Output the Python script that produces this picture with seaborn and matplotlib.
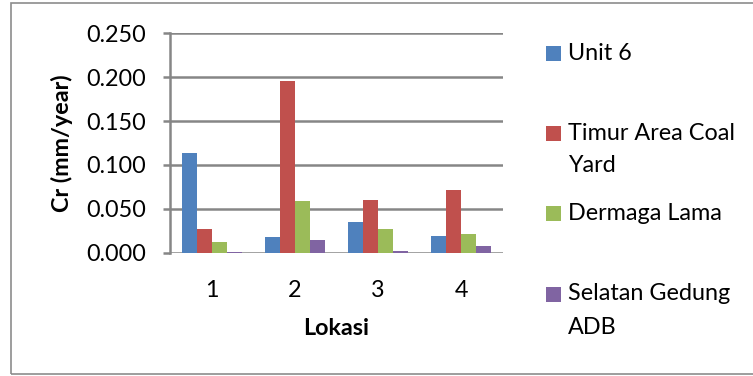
import matplotlib
matplotlib.use("Agg")
import matplotlib.pyplot as plt
import matplotlib.patches as mpatches
import seaborn as sns
import pandas as pd

categories = ["1", "2", "3", "4"]
series_names = ["Unit 6", "Timur Area Coal Yard", "Dermaga Lama", "Selatan Gedung ADB"]
unit6 = [0.114, 0.018, 0.035, 0.019]
timur = [0.027, 0.196, 0.060, 0.071]
dermaga = [0.0125, 0.059, 0.027, 0.021]
selatan = [0.001, 0.015, 0.002, 0.0076]
yticks = [0.0, 0.05, 0.10, 0.15, 0.20, 0.25]
colors = ["#4F81BD", "#C0504D", "#9BBB59", "#8064A2"]
legend_lines = [["Unit 6"], ["Timur Area Coal", "Yard"], ["Dermaga Lama"], ["Selatan Gedung", "ADB"]]

rows = []
for name, vals in zip(series_names, [unit6, timur, dermaga, selatan]):
    for c, v in zip(categories, vals):
        rows.append({"Lokasi": c, "Series": name, "Cr": v})
df = pd.DataFrame(rows)

sns.set_theme(style="white")
plt.rcParams["font.family"] = ["Lato", "DejaVu Sans"]

FS = 16.8
W, H = 753, 376
fig = plt.figure(figsize=(W / 100, H / 100), dpi=100)
ax = fig.add_axes([170 / W, 1 - 252.7 / H, 333 / W, 219.4 / H])

sns.barplot(data=df, x="Lokasi", y="Cr", hue="Series", order=categories,
            hue_order=series_names, palette=colors, width=0.72, gap=0,
            saturation=1, linewidth=0, ax=ax, legend=False)

ax.set_ylim(0, 0.25)
ax.set_xlim(-0.5, 3.5)
ax.set_yticks(yticks)
ax.set_yticklabels([f"{t:.3f}" for t in yticks])
gridc = "#868686"
for t in yticks:
    ax.axhline(t, color=gridc, lw=1.8, zorder=0.5)
for s in ["top", "right", "bottom"]:
    ax.spines[s].set_visible(False)
ax.spines["left"].set_color(gridc)
ax.spines["left"].set_linewidth(1.8)
ax.tick_params(axis="y", left=True, length=5, width=1.8, color=gridc, pad=12,
               labelsize=FS, labelcolor="black")
ax.tick_params(axis="x", bottom=False, pad=14, labelsize=FS, labelcolor="black")

ax.set_ylabel("Cr (mm/year)", fontsize=FS, fontweight="bold", color="black")
ax.yaxis.set_label_coords(-0.291, 0.5)
ax.set_xlabel("Lokasi", fontsize=FS, fontweight="bold", color="black")
ax.xaxis.set_label_coords(0.5, -0.298)

# outer chart border
fig.patches.append(mpatches.Rectangle((11 / W, 1 - 374 / H), 1.0, 371 / H,
                                      transform=fig.transFigure, fill=False,
                                      edgecolor="#8c8c8c", lw=1.2))

# legend (Excel style, marker aligned with first line)
ys = [53, 133, 214, 294]
for col, lines, y in zip(colors, legend_lines, ys):
    fig.patches.append(mpatches.Rectangle((546 / W, 1 - (y + 7.5) / H), 15 / W, 15 / H,
                                          transform=fig.transFigure, color=col, lw=0))
    for i, ln in enumerate(lines):
        fig.text(568 / W, 1 - (y + 33 * i) / H, ln, fontsize=FS, va="center",
                 ha="left", color="black")

fig.savefig("out.png", dpi=100)
